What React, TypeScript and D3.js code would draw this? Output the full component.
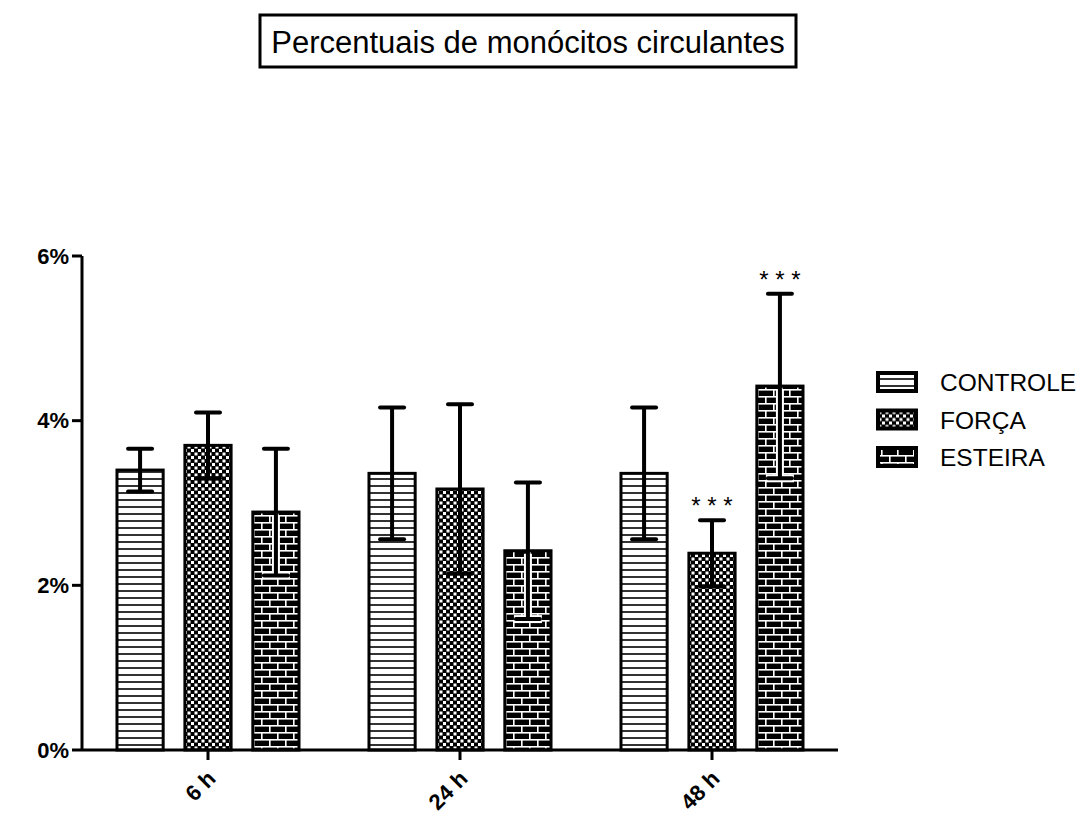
import React from 'react'
import * as d3 from 'd3'

const groups = ['6 h', '24 h', '48 h']
const seriesNames = ['CONTROLE', 'FORÇA', 'ESTEIRA']

const controleMean = [3.40, 3.36, 3.36]
const forcaMean = [3.70, 3.17, 2.39]
const esteiraMean = [2.89, 2.42, 4.42]

const controleErr = [0.26, 0.80, 0.80]
const forcaErr = [0.40, 1.03, 0.40]
const esteiraErr = [0.77, 0.83, 1.12]

const controleSig = ['', '', '']
const forcaSig = ['', '', '***']
const esteiraSig = ['', '', '***']

const yTicks = [0, 2, 4, 6]

const title = 'Percentuais de monócitos circulantes'

const font = '"Liberation Sans", Arial, sans-serif'

const App = () => {
  const width = 1078
  const height = 815
  const margin = { top: 256, right: 240, bottom: 65, left: 82 }
  const innerWidth = width - margin.left - margin.right
  const innerHeight = height - margin.top - margin.bottom

  const means = [controleMean, forcaMean, esteiraMean]
  const errs = [controleErr, forcaErr, esteiraErr]
  const sigs = [controleSig, forcaSig, esteiraSig]
  const fills = ['url(#pat-lines)', 'url(#pat-check)', 'url(#pat-brick)']

  const x0 = d3.scaleBand().domain(groups).range([0, innerWidth]).padding(0)
  const x1 = d3.scaleBand()
    .domain(seriesNames)
    .range([0, x0.bandwidth()])
    .paddingInner(0.32)
    .paddingOuter(0.515)
  const y = d3.scaleLinear().domain([0, 6]).range([innerHeight, 0])

  const capW = 24

  return (
    <svg width={width} height={height} style={{ position: 'absolute', left: 0, top: 0, background: '#fff' }}>
      <defs>
        <pattern id='pat-lines' patternUnits='userSpaceOnUse' width='8' height='7'>
          <rect width='8' height='7' fill='#fff' />
          <rect y='5' width='8' height='2' fill='#333' />
        </pattern>
        <pattern id='pat-check' patternUnits='userSpaceOnUse' width='7' height='7'>
          <rect width='7' height='7' fill='#000' />
          <rect x='0.5' y='0.5' width='3' height='3' fill='#fff' />
          <rect x='4' y='4' width='3' height='3' fill='#fff' />
        </pattern>
        <pattern id='pat-brick' patternUnits='userSpaceOnUse' width='16' height='14'>
          <rect width='16' height='14' fill='#000' />
          <rect y='0' width='16' height='1.6' fill='#fff' />
          <rect y='7' width='16' height='1.6' fill='#fff' />
          <rect x='3' y='0' width='1.6' height='7' fill='#fff' />
          <rect x='11' y='7' width='1.6' height='7' fill='#fff' />
        </pattern>
      </defs>

      {/* title box */}
      <rect x={260} y={15} width={536} height={52} fill='#fff' stroke='#000' strokeWidth={3} />
      <text x={528} y={53} textAnchor='middle' fontFamily={font} fontSize={31}>{title}</text>

      <g transform={`translate(${margin.left},${margin.top})`}>
        {groups.map((g, gi) => (
          <g key={g} transform={`translate(${x0(g)},0)`}>
            {seriesNames.map((s, si) => {
              const m = means[si][gi]
              const e = errs[si][gi]
              const bx = x1(s)
              const bw = x1.bandwidth()
              const cx = bx + bw / 2
              return (
                <g key={s}>
                  <rect x={bx} y={y(m)} width={bw} height={innerHeight - y(m)} fill={fills[si]} />
                  {si === 2 && (
                    <g stroke='#fff' strokeWidth={8}>
                      <line x1={cx} x2={cx} y1={y(m) + 3} y2={y(m - e)} />
                      <line x1={cx - capW / 2 - 2} x2={cx + capW / 2 + 2} y1={y(m - e)} y2={y(m - e)} />
                    </g>
                  )}
                  <rect x={bx} y={y(m)} width={bw} height={innerHeight - y(m)} fill='none' stroke='#000' strokeWidth={3} />
                  <g stroke='#000' strokeWidth={4} strokeLinecap='round'>
                    <line x1={cx} x2={cx} y1={y(m + e)} y2={y(m - e)} strokeLinecap='butt' />
                    <line x1={cx - capW / 2} x2={cx + capW / 2} y1={y(m + e)} y2={y(m + e)} />
                    <line x1={cx - capW / 2} x2={cx + capW / 2} y1={y(m - e)} y2={y(m - e)} />
                  </g>
                  {sigs[si][gi] && (
                    <text x={cx} y={y(m + e) - 6} textAnchor='middle' fontFamily={font} fontSize={24}>
                      {sigs[si][gi].split('').join(' ')}
                    </text>
                  )}
                </g>
              )
            })}
          </g>
        ))}

        {/* y axis */}
        <line x1={0} x2={0} y1={0} y2={innerHeight} stroke='#000' strokeWidth={3} />
        {yTicks.map(t => (
          <g key={t} transform={`translate(0,${y(t)})`}>
            <line x1={-10} x2={0} stroke='#000' strokeWidth={3} />
            <text x={-13} dy='0.35em' textAnchor='end' fontFamily={font} fontWeight='bold' fontSize={22}>{t}%</text>
          </g>
        ))}

        {/* x axis */}
        <line x1={0} x2={innerWidth} y1={innerHeight} y2={innerHeight} stroke='#000' strokeWidth={3} />
        {groups.map(g => {
          const cx = x0(g) + x0.bandwidth() / 2
          return (
            <g key={g} transform={`translate(${cx},${innerHeight})`}>
              <line y1={0} y2={10} stroke='#000' strokeWidth={3} />
              <text
                transform='translate(9,30) rotate(-45)'
                textAnchor='end'
                fontFamily={font}
                fontWeight='bold'
                fontSize={22}
              >{g}</text>
            </g>
          )
        })}
      </g>

      {/* legend */}
      <g transform='translate(878,373)'>
        {seriesNames.map((s, si) => (
          <g key={s} transform={`translate(0,${si * 37.5})`}>
            <rect x={0} y={0} width={38} height={18} fill={fills[si]} stroke='#000' strokeWidth={4} />
            <text x={62} y={18} fontFamily={font} fontSize={24.5}>{s}</text>
          </g>
        ))}
      </g>
    </svg>
  )
}

export default App
